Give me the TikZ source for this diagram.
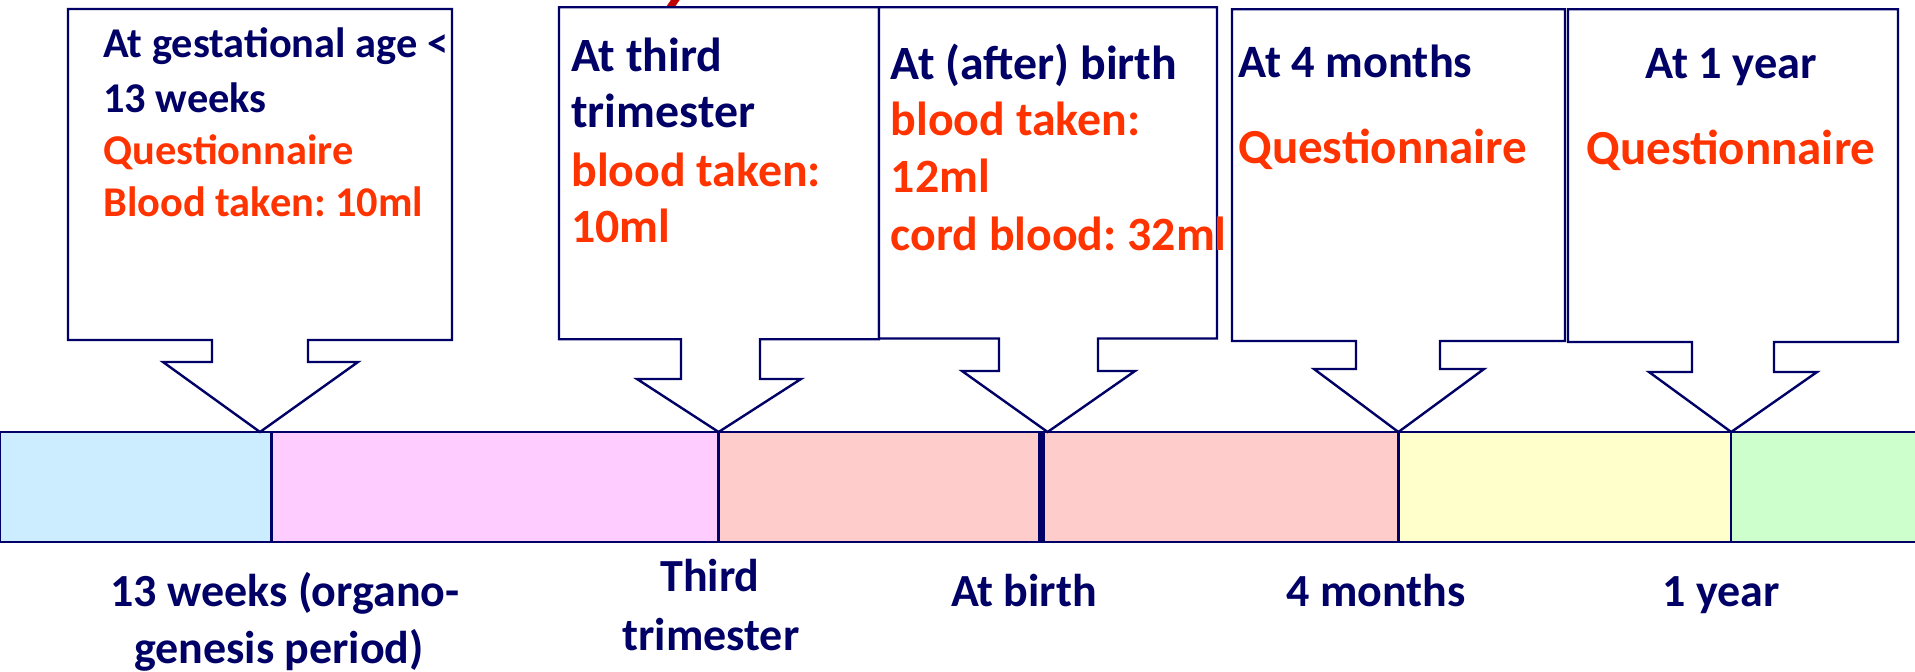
\documentclass[tikz,border=0pt]{standalone}
\usepackage{fontspec}
\setmainfont{Carlito}
\frenchspacing
\definecolor{navy}{RGB}{0,0,102}
\definecolor{orred}{RGB}{255,51,0}
\definecolor{cblue}{RGB}{204,236,255}
\definecolor{cpink}{RGB}{255,204,255}
\definecolor{csalmon}{RGB}{255,204,204}
\definecolor{cyellow}{RGB}{255,255,204}
\definecolor{cgreen}{RGB}{204,255,204}
\definecolor{dred}{RGB}{192,0,0}
\newcommand\mycallout[9]{% left top right bottom stemL stemR wingY wingL wingR ; tip x via \tipx
  \draw[callout] (#1,#2) -- (#3,#2) -- (#3,#4) -- (#6,#4) -- (#6,#7) -- (#9,#7) -- (\tipx,432) -- (#8,#7) -- (#5,#7) -- (#5,#4) -- (#1,#4) -- cycle;}
\begin{document}
\begin{tikzpicture}[x=0.5pt,y=-0.5pt,line join=miter]
\tikzset{
  callout/.style={draw=navy, line width=1.2pt, fill=white},
  seg/.style={draw=navy, line width=1.2pt},
  fa/.style={font=\bfseries\fontsize{21.2}{26}\selectfont, inner sep=0pt, anchor=base west},
  fb/.style={font=\bfseries\fontsize{23.9}{28}\selectfont, inner sep=0pt, anchor=base west},
  fc/.style={font=\bfseries\fontsize{23.2}{28}\selectfont, inner sep=0pt, anchor=base west},
  fd/.style={font=\bfseries\fontsize{24.5}{28}\selectfont, inner sep=0pt, anchor=base west},
  fe/.style={font=\bfseries\fontsize{23}{28}\selectfont, inner sep=0pt, anchor=base, text=navy},
  nv/.style={text=navy}, rd/.style={text=orred}
}
\useasboundingbox (0,0) rectangle (1915,672);
\fill[white] (0,0) rectangle (1915,672);
% fragment of cropped title
\draw[dred, line width=3.6pt] (667,12) -- (678,-4);
% time bar
\filldraw[seg, fill=cblue] (0,432) rectangle (271.4,542);
\filldraw[seg, fill=cpink] (271.4,432) rectangle (718.5,542);
\filldraw[seg, fill=csalmon] (718.5,432) rectangle (1398.3,542);
\filldraw[seg, fill=cyellow] (1398.3,432) rectangle (1731,542);
\filldraw[seg, fill=cgreen] (1731,432) rectangle (1925,542);
\fill[navy] (1037.5,432) rectangle (1045,542);
% callouts
\def\tipx{260}\mycallout{68}{9}{452}{340}{212}{308}{362}{163}{358}
\def\tipx{718.6}\mycallout{559}{7.3}{879}{339.3}{681}{760}{379}{637}{801}
\def\tipx{1047.6}\mycallout{879}{7.3}{1217}{338.5}{999}{1098}{371}{962}{1135}
\def\tipx{1398.4}\mycallout{1232}{9.3}{1565}{341}{1356}{1440}{369}{1314}{1484}
\def\tipx{1731.2}\mycallout{1568}{9.3}{1898}{342}{1692}{1774}{372}{1649}{1817}
% box 1
\node[fa,nv] (a1) at (103,58) {At gestational age <};
\node[fa,nv] (a2) at (103,113) {13 weeks};
\node[fa,rd] (a3) at (103,165) {Questionnaire};
\node[fa,rd] (a4) at (103,217) {Blood taken: 10ml};
% box 2
\node[fb,nv] (b1) at (571,71.7) {At third};
\node[fb,nv] (b2) at (571,128) {trimester};
\node[fb,rd] (b3) at (571,186.7) {blood taken:};
\node[fb,rd] (b4) at (571,243) {10ml};
% box 3
\node[fb,nv] (c1) at (890.4,80) {At (after) birth};
\node[fb,rd] (c2) at (890.4,136) {blood taken:};
\node[fb,rd] (c3) at (890.4,193) {12ml};
\node[fb,rd] (c4) at (890.4,250.7) {cord blood: 32ml};
% box 4
\node[fc,nv] (d1) at (1238,77.3) {At 4 months};
\node[fd,rd] (d2) at (1238,164) {Questionnaire};
% box 5
\node[fc,nv,anchor=base] (e1) at (1731,78.3) {At 1 year};
\node[fd,rd,anchor=base] (e2) at (1731,165) {Questionnaire};
% bottom labels
\node[fe] (l1) at (285,606.7) {13 weeks (organo-};
\node[fe] (l2) at (279,663) {genesis period)};
\node[fe] (l3) at (710,592) {Third};
\node[fe] (l4) at (711,650) {trimester};
\node[fe] (l5) at (1024,606.7) {At birth};
\node[fe] (l6) at (1376,606.7) {4 months};
\node[fe] (l7) at (1721,606.7) {1 year};
\end{tikzpicture}
\end{document}
